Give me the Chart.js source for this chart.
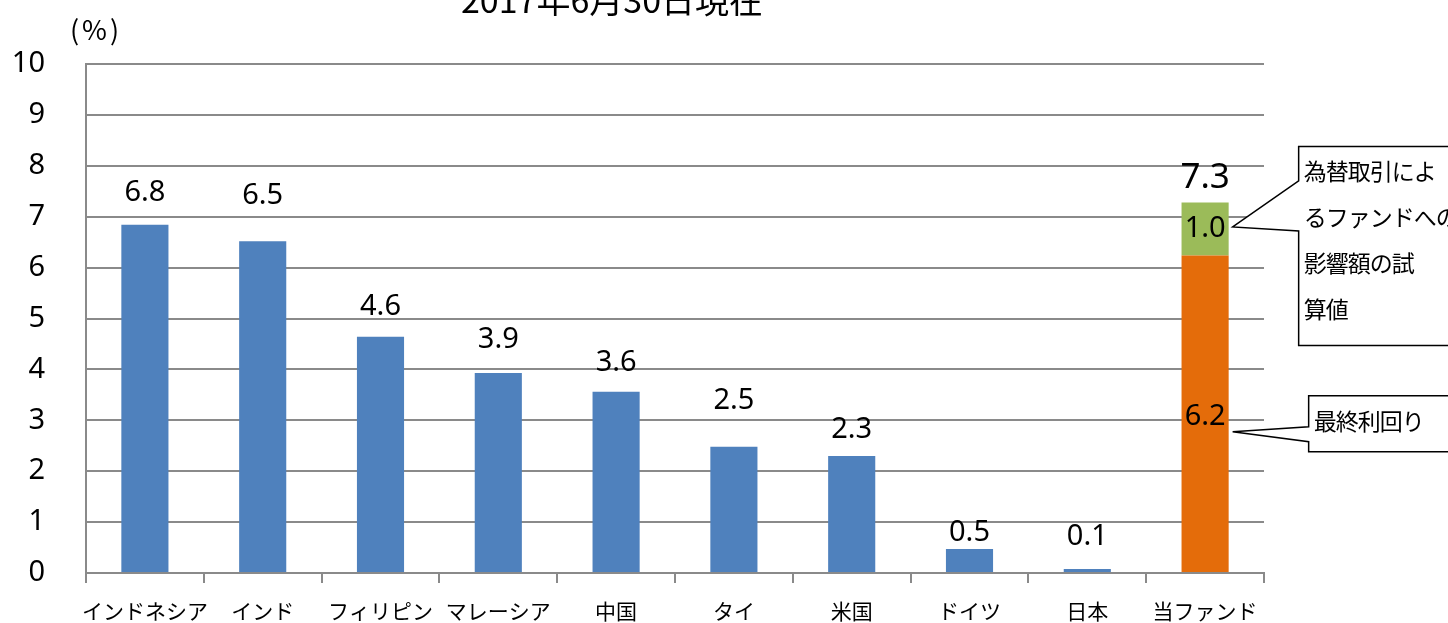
<!DOCTYPE html>
<html>
<head>
<meta charset="utf-8">
<script src="https://cdn.jsdelivr.net/npm/chart.js@4"></script>
<style>
  body { margin: 0; background: #fff; }
  #wrap { width: 1448px; height: 623px; position: relative; }
</style>
</head>
<body>
<div id="wrap"><canvas id="chart"></canvas></div>
<script>
const FONT = '"Noto Sans CJK JP", "Noto Sans", sans-serif'
const NUM_FONT = '"Noto Sans", sans-serif'

const categories = ['インドネシア', 'インド', 'フィリピン', 'マレーシア', '中国', 'タイ', '米国', 'ドイツ', '日本', '当ファンド']
const yields = [6.84, 6.52, 4.64, 3.93, 3.56, 2.48, 2.30, 0.47, 0.08, 6.24]
const fxEffect = [null, null, null, null, null, null, null, null, null, 1.04]
const yTicks = [0, 1, 2, 3, 4, 5, 6, 7, 8, 9, 10]
const title = '2017年6月30日現在'
const fxNote = ['為替取引によ', 'るファンドへの', '影響額の試', '算値']
const yieldNote = '最終利回り'

// how far each value label sits above its bar (hand placed in the original)
const labelLift = [32, 45, 30, 33, 29, 46, 26, 16, 32]

const barColors = categories.map((c, i) => i === categories.length - 1 ? '#E46C0A' : '#4F81BD')

const labelsPlugin = {
    id: 'labels',
    afterDatasetsDraw(chart) {
        const ctx = chart.ctx
        const base = chart.getDatasetMeta(0).data
        const top = chart.getDatasetMeta(1).data
        const last = categories.length - 1

        ctx.save()
        ctx.fillStyle = '#000'
        ctx.textAlign = 'center'
        ctx.textBaseline = 'middle'
        ctx.font = '29px ' + NUM_FONT

        base.forEach((bar, i) => {
            if (i === last) return
            ctx.fillText(yields[i].toFixed(1), bar.x, bar.y - labelLift[i])
        })

        // stacked fund bar
        const fund = base[last]
        const fx = top[last]
        ctx.fillText(yields[last].toFixed(1), fund.x, (fund.y + fund.base) / 2 + 3)
        ctx.fillText(fxEffect[last].toFixed(1), fx.x, (fx.y + fx.base) / 2)
        ctx.font = '35px ' + NUM_FONT
        ctx.fillText((yields[last] + fxEffect[last]).toFixed(1), fx.x, fx.y - 24)

        // title and unit
        ctx.font = '34px ' + FONT
        ctx.textBaseline = 'alphabetic'
        ctx.fillText(title, 612, 13)
        ctx.font = '27px ' + FONT
        ctx.textBaseline = 'middle'
        ctx.letterSpacing = '3px'
        ctx.fillText('(%)', 96, 30)
        ctx.letterSpacing = '0px'

        // callouts
        const right = fund.x + fund.width / 2
        ctx.strokeStyle = '#000'
        ctx.lineWidth = 1.5
        ctx.fillStyle = '#fff'

        const p1 = { x: right + 4, y: (fx.y + fx.base) / 2 - 2 }
        const b1 = { x: right + 70, top: fx.y - 56, bottom: fx.y + 143 }
        ctx.beginPath()
        ctx.moveTo(b1.x, p1.y - 46)
        ctx.lineTo(b1.x, b1.top)
        ctx.lineTo(1460, b1.top)
        ctx.lineTo(1460, b1.bottom)
        ctx.lineTo(b1.x, b1.bottom)
        ctx.lineTo(b1.x, p1.y + 4)
        ctx.lineTo(p1.x, p1.y)
        ctx.closePath()
        ctx.fill()
        ctx.stroke()

        const p2 = { x: right + 4, y: (fund.y + fund.base) / 2 + 18 }
        const b2 = { x: right + 80, top: p2.y - 36, bottom: p2.y + 20 }
        ctx.beginPath()
        ctx.moveTo(b2.x, p2.y - 5)
        ctx.lineTo(b2.x, b2.top)
        ctx.lineTo(1460, b2.top)
        ctx.lineTo(1460, b2.bottom)
        ctx.lineTo(b2.x, b2.bottom)
        ctx.lineTo(b2.x, p2.y + 10)
        ctx.lineTo(p2.x, p2.y)
        ctx.closePath()
        ctx.fill()
        ctx.stroke()

        ctx.fillStyle = '#000'
        ctx.textAlign = 'left'
        ctx.font = '23px ' + FONT
        ctx.letterSpacing = '-1px'
        fxNote.forEach((line, i) => {
            ctx.fillText(line, b1.x + 5, b1.top + 25 + i * 46)
        })
        ctx.fillText(yieldNote, b2.x + 5, b2.top + 26)
        ctx.restore()
    }
}

const chart = document.querySelector('#chart').getContext('2d')

new Chart(chart, {
    type: 'bar',
    data: {
        labels: categories,
        datasets: [
            {
                label: 'yield',
                data: yields,
                backgroundColor: barColors,
                barPercentage: 0.4,
                categoryPercentage: 1
            },
            {
                label: 'fx',
                data: fxEffect,
                backgroundColor: '#9BBB59',
                barPercentage: 0.4,
                categoryPercentage: 1
            }
        ]
    },
    options: {
        responsive: true,
        maintainAspectRatio: false,
        animation: false,
        layout: { padding: { top: 64, right: 184, left: 0, bottom: 0 } },
        plugins: {
            legend: { display: false },
            tooltip: { enabled: false }
        },
        scales: {
            x: {
                stacked: true,
                grid: { offset: true, drawOnChartArea: false, tickLength: 10, color: '#8a8a8a', lineWidth: 2 },
                border: { color: '#8a8a8a', width: 2 },
                ticks: { color: '#000', font: { family: FONT, size: 21 }, padding: 15, maxRotation: 0, autoSkip: false },
                afterFit: s => { s.height = 50 }
            },
            y: {
                stacked: true,
                min: 0,
                max: 10,
                afterBuildTicks: s => { s.ticks = yTicks.map(v => ({ value: v })) },
                grid: { color: '#8a8a8a', lineWidth: 2, tickLength: 41, tickColor: 'rgba(0,0,0,0)' },
                border: { color: '#8a8a8a', width: 2 },
                ticks: { color: '#000', font: { family: NUM_FONT, size: 29 }, padding: 0 },
                afterFit: s => { s.width = 86 }
            }
        }
    },
    plugins: [labelsPlugin]
})
</script>
</body>
</html>
